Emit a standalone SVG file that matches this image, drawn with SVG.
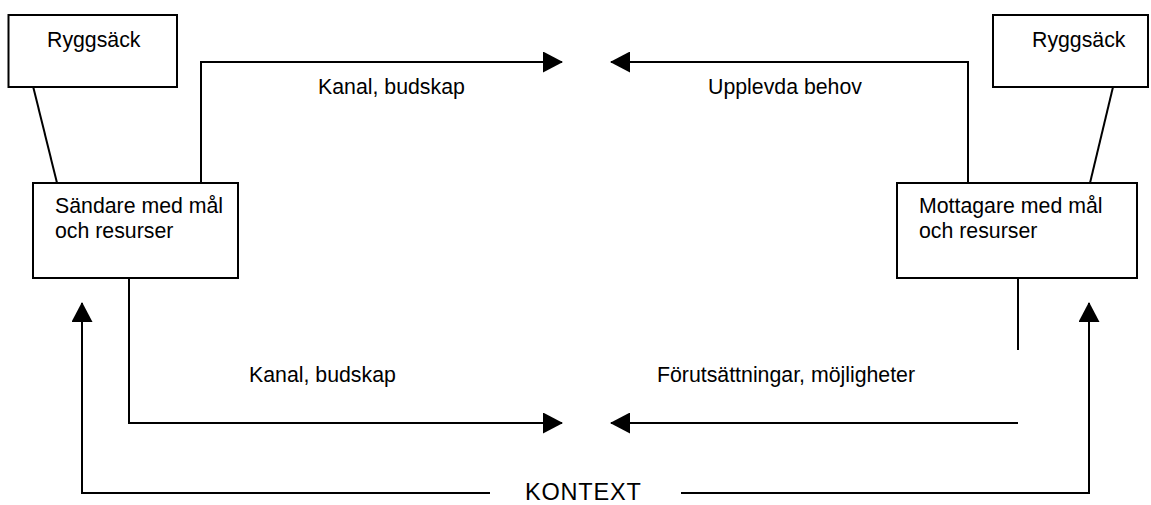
<svg xmlns="http://www.w3.org/2000/svg" width="1151" height="505" viewBox="0 0 1151 505">
<style>
.box{fill:#fff;stroke:#000;stroke-width:2}
.ln{fill:none;stroke:#000;stroke-width:2}
.t{font-family:"Liberation Sans",Arial,sans-serif;font-size:21.3px;fill:#000}
.big{font-size:23.5px}
</style>
<defs>
<marker id="ah" viewBox="0 0 20 21" refX="19" refY="10.5" markerWidth="20" markerHeight="21" markerUnits="userSpaceOnUse" orient="auto">
<path d="M0,0 L20,10.5 L0,21 Z" fill="#000"/>
</marker>
</defs>
<g id="connectors">
<line class="ln" x1="33" y1="86" x2="57" y2="183"/>
<line class="ln" x1="1113" y1="87" x2="1090" y2="183"/>
<polyline class="ln" points="201,183 201,62 562,62" marker-end="url(#ah)"/>
<polyline class="ln" points="968,183 968,62 611,62" marker-end="url(#ah)"/>
<polyline class="ln" points="129,279 129,423 562,423" marker-end="url(#ah)"/>
<line class="ln" x1="1018" y1="279" x2="1018" y2="350"/>
<line class="ln" x1="1018" y1="423" x2="611" y2="423" marker-end="url(#ah)"/>
<polyline class="ln" points="490,493 82,493 82,303" marker-end="url(#ah)"/>
<polyline class="ln" points="681,493 1089,493 1089,303" marker-end="url(#ah)"/>
<text class="t" x="318" y="94">Kanal, budskap</text>
<text class="t" x="708" y="94">Upplevda behov</text>
<text class="t" x="249" y="382">Kanal, budskap</text>
<text class="t" x="657" y="382">Förutsättningar, möjligheter</text>
<text class="t big" x="525" y="500" letter-spacing="0.8">KONTEXT</text>
</g>
<g id="ryggsack-left">
<rect class="box" x="8.5" y="15" width="168.5" height="72"/>
<text class="t" x="47" y="47">Ryggsäck</text>
</g>
<g id="ryggsack-right">
<rect class="box" x="993" y="15" width="155" height="72"/>
<text class="t" x="1032" y="47">Ryggsäck</text>
</g>
<g id="sandare">
<rect class="box" x="33" y="183" width="205" height="95"/>
<text class="t" x="55" y="213">Sändare med mål</text>
<text class="t" x="55" y="238">och resurser</text>
</g>
<g id="mottagare">
<rect class="box" x="897" y="183" width="240" height="95"/>
<text class="t" x="919" y="213">Mottagare med mål</text>
<text class="t" x="919" y="238">och resurser</text>
</g>
</svg>
